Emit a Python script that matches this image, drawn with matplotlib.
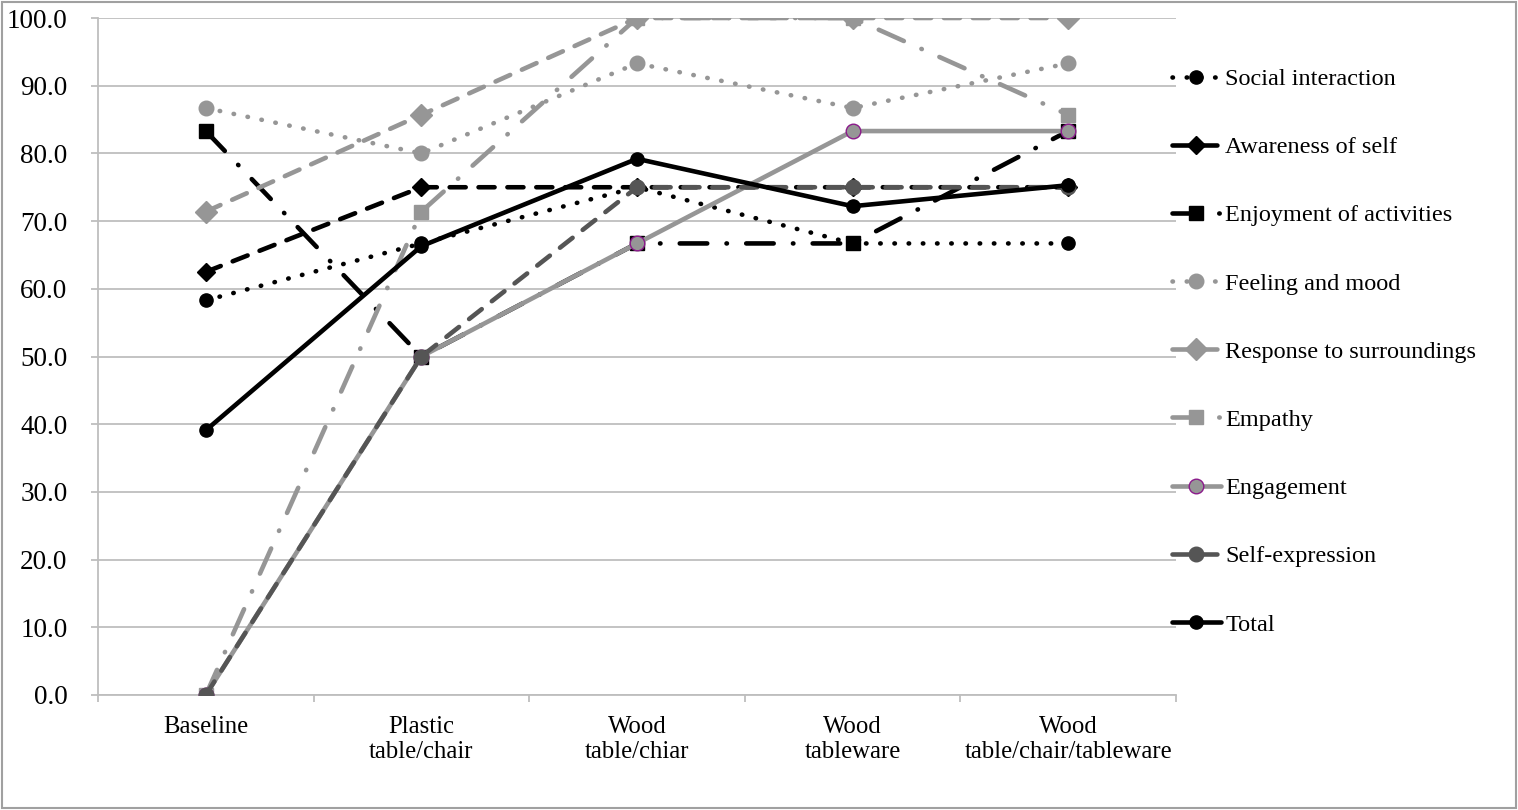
import matplotlib.pyplot as plt
from matplotlib.patches import Rectangle

plt.rcParams['font.family'] = ['Liberation Serif', 'DejaVu Serif']

# conditions on the x axis
conditions = ['Baseline', 'Plastic\ntable/chair', 'Wood\ntable/chiar',
              'Wood\ntableware', 'Wood\ntable/chair/tableware']

# scores per domain
social = [58.3, 66.7, 75.0, 66.7, 66.7]
awareness = [62.5, 75.0, 75.0, 75.0, 75.0]
enjoyment = [83.3, 50.0, 66.7, 66.7, 83.3]
feeling = [86.7, 80.0, 93.3, 86.7, 93.3]
response = [71.4, 85.7, 100.0, 100.0, 100.0]
empathy = [0.0, 71.4, 100.0, 100.0, 85.7]
engagement = [0.0, 50.0, 66.7, 83.3, 83.3]
self_expr = [0.0, 50.0, 75.0, 75.0, 75.0]
total = [39.1, 66.3, 79.2, 72.2, 75.3]

black = '#000000'
gray = '#969696'
dgray = '#555555'
dotted = (0, (0.1, 3.0))
dashed = (0, (3.5, 2.8))
dashdot = (0, (6, 4.2, 0.1, 4.2))

series = [
    ('Social interaction', social, black, dotted, 'o', 9.5, black),
    ('Awareness of self', awareness, black, dashed, 'D', 9.5, black),
    ('Enjoyment of activities', enjoyment, black, dashdot, 's', 10.5, black),
    ('Feeling and mood', feeling, gray, dotted, 'o', 10.5, gray),
    ('Response to surroundings', response, gray, dashed, 'D', 11.5, gray),
    ('Empathy', empathy, gray, dashdot, 's', 10.5, gray),
    ('Engagement', engagement, gray, '-', 'o', 10.5, '#8B1A8B'),
    ('Self-expression', self_expr, dgray, dashed, 'o', 10.5, dgray),
    ('Total', total, black, '-', 'o', 9.5, black),
]

fig = plt.figure(figsize=(15.18, 8.1), dpi=100)
ax = fig.add_axes([98 / 1518, 1 - 695 / 810, (1176 - 98) / 1518, (695 - 18) / 810])

x = list(range(len(conditions)))
for i, (name, vals, col, ls, mk, ms, mec) in enumerate(series):
    ax.plot(x, vals, color=col, linestyle=ls, linewidth=3.3, marker=mk,
            markersize=ms, markerfacecolor=col, markeredgecolor=mec,
            markeredgewidth=1, dash_capstyle='round', solid_capstyle='round',
            label=name, zorder=3 + i)

ax.set_xlim(-0.5, 4.5)
ax.set_ylim(0, 100)
ax.set_yticks(range(0, 101, 10))
ax.set_yticklabels(['%.1f' % v for v in range(0, 101, 10)])
ax.set_xticks(x)
ax.set_xticklabels(conditions, linespacing=1.2)
ax.set_xticks([v - 0.5 for v in range(6)], minor=True)

ax.grid(axis='y', color='#BEBEBE', linewidth=1.3, zorder=0)
ax.set_axisbelow(True)
for s in ['top', 'right']:
    ax.spines[s].set_visible(False)
for s in ['left', 'bottom']:
    ax.spines[s].set_color('#BEBEBE')
    ax.spines[s].set_linewidth(1.3)

ax.tick_params(axis='y', length=5, color='#BEBEBE', width=1.3, pad=17, labelsize=19.5)
ax.tick_params(axis='x', which='major', length=0, pad=15, labelsize=17.8)
ax.tick_params(axis='x', which='minor', length=5, color='#BEBEBE', width=1.3)

leg = ax.legend(loc='upper left', bbox_to_anchor=(1172 / 1518, 1 - 68 / 810),
                bbox_transform=fig.transFigure, frameon=False, fontsize=17.5,
                handlelength=2.0, handletextpad=0.2, labelspacing=1.9,
                borderpad=0, borderaxespad=0)

fig.patches.append(Rectangle((2 / 1518, 2 / 810), 1 - 4 / 1518, 1 - 4 / 810,
                             transform=fig.transFigure, fill=False,
                             edgecolor='#A0A0A0', linewidth=1.5))

fig.savefig('out.png', dpi=100)
